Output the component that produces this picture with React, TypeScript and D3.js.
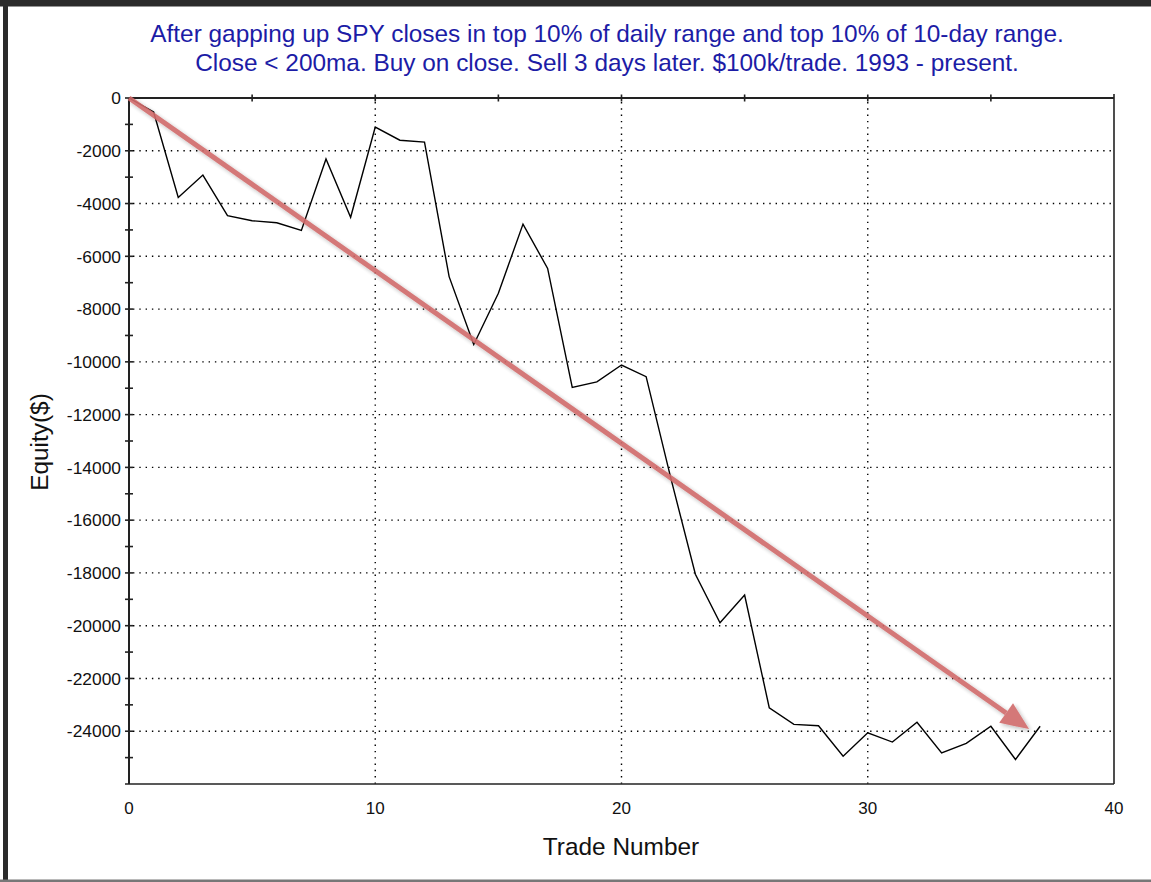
import React from "react";
import * as d3 from "d3";

const TITLE_LINES = [
  "After gapping up SPY closes in top 10% of daily range and top 10% of 10-day range.",
  "Close < 200ma. Buy on close. Sell 3 days later. $100k/trade. 1993 - present.",
];
const X_LABEL = "Trade Number";
const Y_LABEL = "Equity($)";

const tradeNumbers = [
  0, 1, 2, 3, 4, 5, 6, 7, 8, 9, 10, 11, 12, 13, 14, 15, 16, 17, 18, 19, 20, 21, 22, 23, 24, 25, 26, 27, 28, 29, 30, 31, 32, 33, 34, 35, 36, 37,
];
const equity = [
  0, -530, -3770, -2920, -4460, -4650, -4730, -5020, -2310, -4520, -1100, -1600, -1670, -6770, -9340, -7400, -4780, -6460,
  -10970, -10760, -10120, -10560, -14400, -18050, -19890, -18840, -23110, -23740, -23790, -24950, -24060, -24410, -23660,
  -24820, -24460, -23810, -25070, -23810,
];

const xDomain = [0, 40];
const yDomain = [-26000, 0];
const xTickLabels = [0, 10, 20, 30, 40];
const xTopTicks = [5, 10, 15, 20, 25, 30, 35];
const xGrid = [10, 20, 30];
const yTickLabels = [0, -2000, -4000, -6000, -8000, -10000, -12000, -14000, -16000, -18000, -20000, -22000, -24000];
const yMinorTicks = [-1000, -3000, -5000, -7000, -9000, -11000, -13000, -15000, -17000, -19000, -21000, -23000, -25000];
const yGrid = [-2000, -4000, -6000, -8000, -10000, -12000, -14000, -16000, -18000, -20000, -22000, -24000];

// trend arrow annotation (data coordinates)
const arrowStart = [0, 0];
const arrowEnd = [36.55, -23920];

export default function App() {
  const W = 1151;
  const H = 882;
  const left = 129;
  const right = 1114;
  const top = 98;
  const bottom = 784;

  const x = d3.scaleLinear().domain(xDomain).range([left, right]);
  const y = d3.scaleLinear().domain(yDomain).range([bottom, top]);

  const line = d3
    .line<number>()
    .x((_, i) => x(tradeNumbers[i]))
    .y((d) => y(d));

  const ax0 = x(arrowStart[0]);
  const ay0 = y(arrowStart[1]);
  const ax1 = x(arrowEnd[0]);
  const ay1 = y(arrowEnd[1]);
  const ang = Math.atan2(ay1 - ay0, ax1 - ax0);
  const headLen = 28;
  const headW = 12;
  const bx = ax1 - headLen * Math.cos(ang);
  const by = ay1 - headLen * Math.sin(ang);
  const px = -Math.sin(ang);
  const py = Math.cos(ang);
  const head = `M${ax1},${ay1} L${bx + px * headW},${by + py * headW} L${bx - px * headW},${by - py * headW} Z`;

  const font = "Arial, 'Liberation Sans', sans-serif";
  const dash = "1.4 4.9";

  return (
    <svg width={W} height={H} style={{ position: "absolute", left: 0, top: 0, background: "#fff" }}>
      <defs>
        <filter id="sh" x="-10%" y="-10%" width="120%" height="120%">
          <feGaussianBlur in="SourceAlpha" stdDeviation="2" />
          <feOffset dx="2" dy="2" result="b" />
          <feComponentTransfer>
            <feFuncA type="linear" slope="0.3" />
          </feComponentTransfer>
          <feMerge>
            <feMergeNode />
            <feMergeNode in="SourceGraphic" />
          </feMerge>
        </filter>
      </defs>
      <rect x={0} y={0} width={W} height={H} fill="#fff" />
      {/* outer frame */}
      <rect x={0} y={0} width={W} height={6.5} fill="#2b2b2b" />
      <rect x={3} y={0} width={5} height={H} fill="#2b2b2b" />
      <rect x={0} y={879.5} width={W} height={2.5} fill="#777" />

      {/* title */}
      {TITLE_LINES.map((t, i) => (
        <text key={i} x={607} y={42 + i * 29} textAnchor="middle" fontFamily={font} fontSize={24.4} fill="#1c1ca6">
          {t}
        </text>
      ))}

      {/* grid */}
      {yGrid.map((v) => (
        <line key={"gy" + v} x1={left + 4} x2={right} y1={y(v)} y2={y(v)} stroke="#000" strokeWidth={1.4} strokeDasharray={dash} />
      ))}
      {xGrid.map((v) => (
        <line key={"gx" + v} x1={x(v)} x2={x(v)} y1={top + 4} y2={bottom} stroke="#000" strokeWidth={1.4} strokeDasharray={dash} />
      ))}

      {/* frame */}
      <line x1={right} x2={right} y1={top - 4} y2={bottom} stroke="#222" strokeWidth={1.6} />
      <line x1={left - 4} x2={right} y1={bottom} y2={bottom} stroke="#222" strokeWidth={1.6} />
      <line x1={left} x2={right} y1={top} y2={top} stroke="#222" strokeWidth={2} />
      <line x1={left} x2={left} y1={top} y2={bottom} stroke="#222" strokeWidth={2} />

      {/* ticks */}
      {yTickLabels.map((v) => (
        <line key={"ty" + v} x1={left - 4} x2={left + 4} y1={y(v)} y2={y(v)} stroke="#222" strokeWidth={1.6} />
      ))}
      {yMinorTicks.map((v) => (
        <line key={"tm" + v} x1={left - 4} x2={left + 4} y1={y(v)} y2={y(v)} stroke="#222" strokeWidth={1.6} />
      ))}
      {xTopTicks.map((v) => (
        <line key={"tx" + v} x1={x(v)} x2={x(v)} y1={top - 3.5} y2={top + 3.5} stroke="#222" strokeWidth={1.6} />
      ))}

      {/* tick labels */}
      {yTickLabels.map((v) => (
        <text key={"ly" + v} x={left - 8} y={y(v)} dy="0.36em" textAnchor="end" fontFamily={font} fontSize={17.4} fill="#111">
          {v}
        </text>
      ))}
      {xTickLabels.map((v) => (
        <text key={"lx" + v} x={x(v)} y={814} textAnchor="middle" fontFamily={font} fontSize={17} fill="#111">
          {v}
        </text>
      ))}

      {/* axis titles */}
      <text x={621} y={855} textAnchor="middle" fontFamily={font} fontSize={24.4} fill="#111">
        {X_LABEL}
      </text>
      <text
        transform={`translate(48, 442) rotate(-90)`}
        textAnchor="middle"
        fontFamily={font}
        fontSize={24.4}
        fill="#111"
      >
        {Y_LABEL}
      </text>

      {/* equity line */}
      <path d={line(equity) || ""} fill="none" stroke="#000" strokeWidth={1.4} strokeLinejoin="miter" />

      {/* trend arrow */}
      <g filter="url(#sh)" opacity={0.9}>
        <line x1={ax0} y1={ay0} x2={bx} y2={by} stroke="#d06a6a" strokeWidth={5} />
        <path d={head} fill="#d06a6a" />
      </g>
    </svg>
  );
}
